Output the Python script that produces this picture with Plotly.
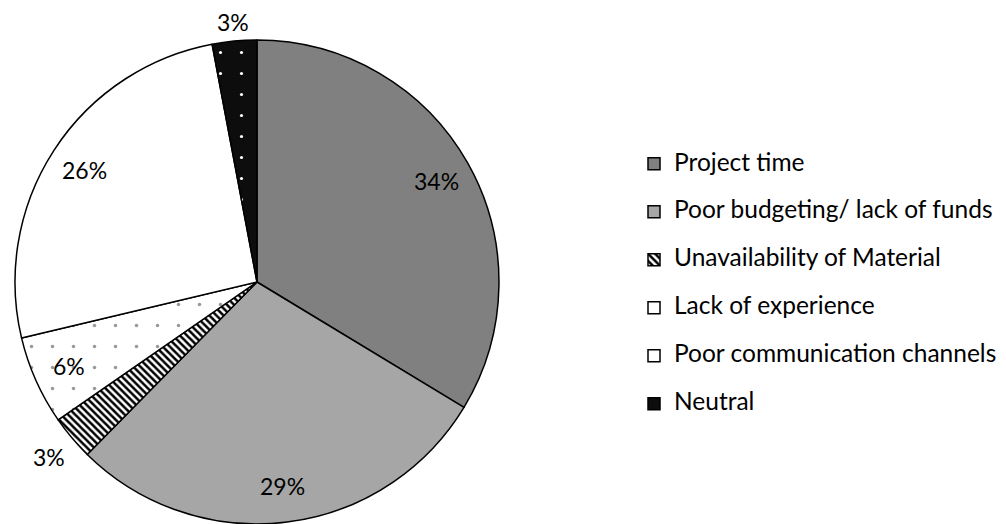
import math
import plotly.graph_objects as go

# Reasons for delay (share of respondents, %)
categories = [
    "Project time",
    "Poor budgeting/ lack of funds",
    "Unavailability of Material",
    "Lack of experience",
    "Poor communication channels",
    "Neutral",
]
shares = [34, 29, 3, 6, 26, 3]

# Slice fills and pattern styling
fill_colors = ["#808080", "#a6a6a6", "#ffffff", "#ffffff", "#ffffff", "#0d0d0d"]
pattern_shapes = ["", "", "\\", ".", "", "."]
pattern_fg = ["#808080", "#a6a6a6", "#000000", "#999999", "#ffffff", "#ffffff"]
pattern_bg = ["#808080", "#a6a6a6", "#ffffff", "#ffffff", "#ffffff", "#0d0d0d"]
pattern_size = [8, 8, 5, 21, 8, 21]
pattern_solidity = [0.3, 0.3, 0.5, 0.022, 0.3, 0.018]

W, H = 1006, 524
FONT = "Lato"
LABEL_SIZE = 23
LEGEND_TEXT_SIZE = 24.5
LEGEND_LINE = 17.3  # base legend font: two lines of this give a 48px row

# Pie placement (paper fractions)
dom_y = [0.0, 0.9237]
dom_x = [0.0149, 0.4960]
cx = W * (dom_x[0] + dom_x[1]) / 2
cy = H * (1 - (dom_y[0] + dom_y[1]) / 2)
radius = min(W * (dom_x[1] - dom_x[0]), H * (dom_y[1] - dom_y[0])) / 2

legend_names = [
    f"<span style='font-size:{LEGEND_TEXT_SIZE}px'>{c}</span><br>\u00a0" for c in categories
]

fig = go.Figure(
    go.Pie(
        labels=legend_names,
        values=shares,
        sort=False,
        direction="clockwise",
        rotation=0,
        textinfo="none",
        hoverinfo="skip",
        domain=dict(x=dom_x, y=dom_y),
        marker=dict(
            colors=fill_colors,
            line=dict(color="#000000", width=1.5),
            pattern=dict(
                shape=pattern_shapes,
                fgcolor=pattern_fg,
                bgcolor=pattern_bg,
                size=pattern_size,
                solidity=pattern_solidity,
                fillmode="replace",
            ),
        ),
    )
)

# Percentage labels: inside large slices, just outside the small ones
total = sum(shares)
annotations = []
cum = 0
for v in shares:
    theta = 2 * math.pi * (cum + v / 2) / total
    cum += v
    s, c = math.sin(theta), math.cos(theta)
    if v / total >= 0.05:
        d = 0.85 * radius
    else:
        d = radius + 7 + 22 * abs(s) + 10 * abs(c)
    px = cx + d * s
    py = cy - d * c
    annotations.append(
        dict(
            x=px / W,
            y=1 - py / H,
            xref="paper",
            yref="paper",
            text=f"{v}%",
            showarrow=False,
            font=dict(family=FONT, size=LABEL_SIZE, color="#000000"),
            xanchor="center",
            yanchor="middle",
        )
    )

fig.update_layout(
    width=W,
    height=H,
    margin=dict(l=0, r=0, t=0, b=0),
    paper_bgcolor="#ffffff",
    plot_bgcolor="#ffffff",
    showlegend=True,
    legend=dict(
        x=(674 - 40) / W,
        xanchor="left",
        y=1 - 146 / H,
        yanchor="top",
        valign="top",
        font=dict(family=FONT, size=LEGEND_LINE, color="#000000"),
        bgcolor="rgba(0,0,0,0)",
        traceorder="normal",
    ),
    annotations=annotations,
)

fig.write_html("out.html")
